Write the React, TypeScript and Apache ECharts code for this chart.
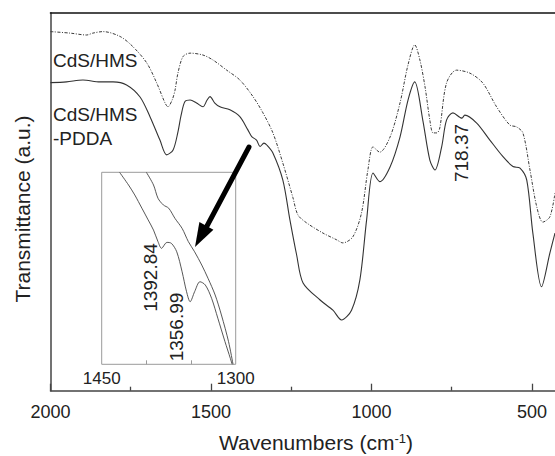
import { useEffect, useRef } from "react";
import * as echarts from "echarts";

const FONT = '"Liberation Sans", Arial, Helvetica, sans-serif';

// Main spectra (wavenumber in cm-1, transmittance in a.u.)
const hmsWavenumbers = [2000, 1939, 1887, 1868, 1836, 1783, 1743, 1700, 1669, 1643, 1634, 1621, 1612, 1603, 1587, 1565, 1525, 1494, 1451, 1410, 1369, 1338, 1307, 1276, 1245, 1229, 1202, 1151, 1108, 1089, 1058, 1031, 1011, 995, 974, 942, 911, 886, 865, 849, 833, 818, 808, 796, 787, 766, 735, 693, 653, 610, 569, 548, 528, 506, 485, 466, 444, 428];
const hmsTransmittance = [95.0, 94.6, 94.1, 94.6, 95.0, 93.7, 91.0, 86.7, 81.4, 76.1, 75.1, 76.9, 79.5, 84.0, 88.4, 89.3, 88.8, 87.5, 84.8, 82.2, 77.8, 73.5, 68.2, 60.2, 51.2, 46.5, 44.4, 41.7, 39.9, 39.1, 40.7, 47.0, 58.4, 64.5, 63.1, 67.1, 76.1, 86.2, 91.5, 87.5, 80.4, 71.6, 68.2, 68.2, 69.5, 81.4, 84.8, 84.0, 81.4, 75.1, 70.3, 69.8, 68.2, 58.4, 48.7, 44.6, 46.0, 52.3];

const pddaWavenumbers = [2000, 1950, 1899, 1846, 1805, 1763, 1721, 1690, 1659, 1638, 1618, 1603, 1593, 1581, 1565, 1545, 1525, 1512, 1503, 1488, 1472, 1441, 1410, 1385, 1373, 1358, 1347, 1335, 1326, 1307, 1276, 1254, 1233, 1213, 1160, 1120, 1093, 1062, 1036, 1015, 995, 974, 942, 911, 886, 865, 840, 818, 802, 781, 766, 746, 718, 709, 672, 631, 590, 559, 537, 516, 497, 470, 444, 428];
const pddaTransmittance = [81.5, 81.7, 82.2, 81.7, 81.7, 80.9, 77.7, 72.5, 66.3, 62.4, 63.7, 68.4, 72.9, 76.5, 76.9, 76.1, 75.1, 76.9, 77.8, 76.1, 75.1, 74.3, 72.5, 69.0, 67.2, 66.3, 64.6, 65.5, 65.0, 62.9, 55.7, 45.2, 35.9, 28.5, 24.0, 21.3, 18.7, 21.3, 29.3, 45.2, 57.6, 55.3, 59.2, 67.1, 76.9, 81.7, 71.6, 61.0, 58.4, 64.6, 71.6, 73.5, 72.1, 72.9, 70.8, 66.3, 61.9, 59.3, 58.9, 55.7, 41.7, 27.5, 36.4, 41.7];

// Inset (1450-1300 cm-1, enlarged)
const pddaInsetWavenumbers = [1430, 1420, 1413, 1405, 1398, 1392, 1387, 1383, 1377, 1372, 1366, 1360, 1355, 1351, 1346, 1340, 1334, 1327, 1320, 1312, 1306, 1304];
const pddaInsetTransmittance = [100, 93.4, 88.2, 81.3, 75.2, 69.9, 63.9, 60.4, 63.5, 63.0, 58.6, 48.2, 37.8, 32.6, 37.8, 43.0, 41.3, 34.4, 24.0, 11.8, 3.1, 0];
const hmsInsetWavenumbers = [1400, 1392, 1387, 1381, 1375, 1368, 1360, 1353, 1346, 1338, 1331, 1323, 1316, 1308, 1303];
const hmsInsetTransmittance = [100, 93.4, 86.5, 83.0, 81.3, 76.0, 70.8, 63.9, 58.6, 51.7, 44.8, 36.1, 25.7, 11.8, 0];

const mainMajorTicks = [500, 1000, 1500, 2000];
const mainMinorTicks = [750, 1250, 1750];
const insetLabels = [1300, 1450];
const insetTicks = [1350, 1400];

const zip = (xs: number[], ys: number[]) => xs.map((x, i) => [x, ys[i]]);
const plain = (v: number) => String(v);

export default function App() {
  const ref = useRef<HTMLDivElement>(null);
  useEffect(() => {
    if (!ref.current) return;
    const chart = echarts.init(ref.current, undefined, { renderer: "svg" });
    const axisGray = "#444";
    const insetGray = "#9a9a9a";
    const txt = "#222";
    const noAxis = { show: false };
    const option: any = {
      animation: false,
      backgroundColor: "#fff",
      textStyle: { fontFamily: FONT },
      grid: [
        { left: 50.5, top: 12.7, right: 0, bottom: 65.3 },
        { left: 101.7, top: 172.3, width: 134, height: 192, show: true, borderColor: insetGray, borderWidth: 1, backgroundColor: "transparent" },
        { left: 50.5, top: 12.7, right: 0, bottom: 65.3 },
      ],
      xAxis: [
        {
          gridIndex: 0, type: "value", inverse: true, min: 428, max: 2000, position: "bottom",
          axisLine: { show: true, lineStyle: { color: axisGray, width: 1.5 } },
          axisTick: { show: true, inside: true, length: 7, customValues: mainMajorTicks, lineStyle: { color: axisGray, width: 1.3 } },
          axisLabel: { customValues: mainMajorTicks, formatter: plain, fontSize: 18, color: txt, margin: 12, fontFamily: FONT },
          splitLine: { show: false },
        },
        {
          gridIndex: 0, type: "value", inverse: true, min: 428, max: 2000, position: "top",
          axisLine: { show: true, lineStyle: { color: "#111", width: 1.6 } },
          axisTick: { show: false }, axisLabel: { show: false }, splitLine: { show: false },
        },
        {
          gridIndex: 1, type: "value", inverse: true, min: 1300, max: 1450, position: "bottom",
          axisLine: { show: false },
          axisTick: { show: true, inside: true, length: 4, customValues: insetTicks, lineStyle: { color: insetGray, width: 1 } },
          axisLabel: { customValues: insetLabels, formatter: plain, fontSize: 17, color: txt, margin: 6, fontFamily: FONT },
          splitLine: { show: false },
        },
        {
          gridIndex: 2, type: "value", inverse: true, min: 428, max: 2000, position: "bottom",
          axisLine: { show: false },
          axisTick: { show: true, inside: true, length: 4, customValues: mainMinorTicks, lineStyle: { color: axisGray, width: 1.3 } },
          axisLabel: { show: false }, splitLine: { show: false },
        },
      ],
      yAxis: [
        {
          gridIndex: 0, type: "value", min: 0, max: 100,
          axisLine: { show: true, lineStyle: { color: axisGray, width: 1.5 } },
          axisTick: { show: false }, axisLabel: { show: false }, splitLine: { show: false },
        },
        { gridIndex: 1, type: "value", min: 0, max: 100, ...noAxis },
        { gridIndex: 2, type: "value", min: 0, max: 100, ...noAxis },
      ],
      series: [
        {
          name: "CdS/HMS", type: "line", xAxisIndex: 0, yAxisIndex: 0,
          data: zip(hmsWavenumbers, hmsTransmittance), showSymbol: false, smooth: 0.3,
          lineStyle: { color: "#3a3a3a", width: 1, type: [3, 1.5, 1, 1.5] },
        },
        {
          name: "CdS/HMS-PDDA", type: "line", xAxisIndex: 0, yAxisIndex: 0,
          data: zip(pddaWavenumbers, pddaTransmittance), showSymbol: false, smooth: 0.3,
          lineStyle: { color: "#333", width: 1.1 },
        },
        {
          name: "CdS/HMS-PDDA inset", type: "line", xAxisIndex: 2, yAxisIndex: 1,
          data: zip(pddaInsetWavenumbers, pddaInsetTransmittance), showSymbol: false, smooth: 0.3, clip: true,
          lineStyle: { color: "#444", width: 0.9 },
        },
        {
          name: "CdS/HMS inset", type: "line", xAxisIndex: 2, yAxisIndex: 1,
          data: zip(hmsInsetWavenumbers, hmsInsetTransmittance), showSymbol: false, smooth: 0.3, clip: true,
          lineStyle: { color: "#444", width: 0.9 },
        },
      ],
      graphic: [
        { type: "text", x: 22.5, y: 209, rotation: Math.PI / 2, style: { text: "Transmittance (a.u.)", fontSize: 21, fontFamily: FONT, fill: txt, align: "center", verticalAlign: "middle" } },
        {
          type: "text", x: 316, y: 442,
          style: {
            text: "Wavenumbers (cm{sup|-1})", fontSize: 21, fontFamily: FONT, fill: txt, align: "center", verticalAlign: "middle",
            rich: { sup: { fontSize: 13, fontFamily: FONT, fill: txt, verticalAlign: "top" } },
          },
        },
        { type: "text", x: 53, y: 60, style: { text: "CdS/HMS", fontSize: 19, fontFamily: FONT, fill: txt, align: "left", verticalAlign: "middle" } },
        { type: "text", x: 53, y: 114.5, style: { text: "CdS/HMS", fontSize: 19, fontFamily: FONT, fill: txt, align: "left", verticalAlign: "middle" } },
        { type: "text", x: 53, y: 138, style: { text: "-PDDA", fontSize: 19, fontFamily: FONT, fill: txt, align: "left", verticalAlign: "middle" } },
        { type: "text", x: 461.7, y: 153, rotation: Math.PI / 2, style: { text: "718.37", fontSize: 19, fontFamily: FONT, fill: txt, align: "center", verticalAlign: "middle" } },
        { type: "text", x: 150, y: 277.5, rotation: Math.PI / 2, style: { text: "1392.84", fontSize: 19, fontFamily: FONT, fill: txt, align: "center", verticalAlign: "middle" } },
        { type: "text", x: 176.7, y: 327, rotation: Math.PI / 2, style: { text: "1356.99", fontSize: 19, fontFamily: FONT, fill: txt, align: "center", verticalAlign: "middle" } },
        { type: "line", shape: { x1: 249, y1: 147, x2: 207, y2: 226 }, style: { stroke: "#000", lineWidth: 5, lineCap: "round" } },
        { type: "polygon", shape: { points: [[195, 247], [213.4, 229.7], [199.4, 222.1]] }, style: { fill: "#000" } },
      ],
    };
    chart.setOption(option);
    return () => chart.dispose();
  }, []);
  return <div ref={ref} style={{ position: "fixed", left: 0, top: 0, width: 555, height: 456 }} />;
}
